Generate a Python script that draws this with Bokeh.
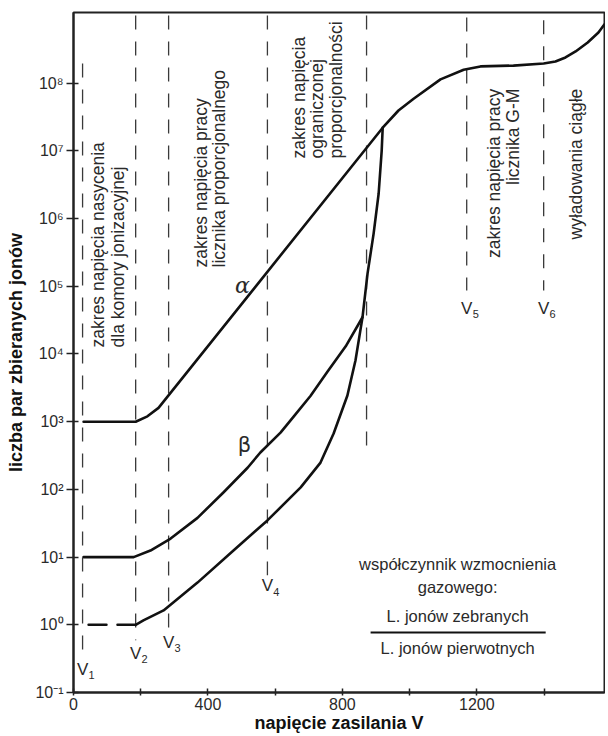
import math
from bokeh.plotting import figure
from bokeh.models import FixedTicker, Range1d
from bokeh.core.properties import value
from bokeh.embed import file_html
from bokeh.resources import INLINE

FONT = "Liberation Sans"
INK = "#111111"
TXT = "#2a2a2a"

# ---------------- data ----------------
# alpha particles curve: supply voltage [V] -> number of collected ion pairs
alpha_v = [30, 185, 220, 253, 920, 967, 1012, 1092, 1161, 1211, 1309, 1399,
           1434, 1464, 1494, 1530, 1562, 1580]
alpha_n = [1e3, 1e3, 1.2e3, 1.6e3, 2.2e7, 3.95e7, 5.9e7, 1.14e8, 1.58e8, 1.77e8,
           1.82e8, 1.95e8, 2.09e8, 2.4e8, 2.94e8, 4.0e8, 5.6e8, 7.4e8]

# beta particles curve (joins alpha curve at the top of the limited region)
beta_v = [30, 179, 229, 289, 369, 446, 518, 556, 616, 655, 705, 756, 810, 854,
          860, 875, 893, 908, 917, 920]
beta_n = [10, 10, 12.5, 18.8, 38, 90, 209, 351, 690, 1190, 2400, 5500, 1.3e4,
          3.1e4, 3.5e4, 1.55e5, 6.0e5, 2.35e6, 1.0e7, 2.2e7]

# third curve (1 primary ion pair); gap in the flat part as drawn
gamma_v = [45, 98, float("nan"), 131, 185, 208, 268, 369, 476, 577, 676, 735,
           774, 815, 839, 860]
gamma_n = [1, 1, float("nan"), 1, 1, 1.16, 1.63, 4.2, 12.5, 34.8, 107, 249,
           670, 2440, 8000, 3.5e4]

# boundary voltages (dashed lines) and their vertical extents
bound_v = [27, 185, 283, 577, 872, 1170, 1399]
bound_top = [1.95e8, 1e9, 1e9, 1e9, 1e9, 9.3e8, 8.5e8]
bound_bottom = [0.295, 0.59, 0.88, 5.4, 400, 8.7e4, 8.7e4]

# V labels
v_names = ["1", "2", "3", "4", "5", "6"]
v_label_x = [27, 185, 283, 577, 1170, 1399]
v_label_y = [0.219, 0.377, 0.548, 3.8, 4.7e4, 4.7e4]

# region descriptions (rotated)
regA_text = ["zakres napięcia nasycenia", "dla komory jonizacyjnej"]
regA_x = [74, 131]
regA_y = [1.25e4, 1.25e4]

regB_text = ["zakres napięcia pracy", "licznika proporcjonalnego"]
regB_x = [378, 432]
regB_y = [1.9e5, 1.9e5]

regC_text = ["zakres napięcia", "ograniczonej", "proporcjonalności"]
regC_x = [670, 726, 780]
regC_y = [7.73e6, 7.73e6, 7.73e6]

regD_text = ["zakres napięcia pracy", "licznika G-M", "wyładowania ciągłe"]
regD_x = [1250, 1309, 1494]
regD_y = [8.3e7, 8.3e7, 8.3e7]

# curve names
greek_text = ["α", "β"]
greek_x = [503, 509]
greek_y = [1.02e5, 460]

# gas gain definition
gain_text = ["współczynnik wzmocnienia", "gazowego:", "L. jonów zebranych",
             "L. jonów pierwotnych"]
gain_x = [1143, 1143, 1143, 1143]
gain_y = [8.04, 3.56, 1.33, 0.462]
frac_x = [884, 1405]
frac_y = [0.769, 0.769]

x_ticks = [0, 200, 400, 600, 800, 1000, 1200, 1400]
x_hidden = [200, 600, 1000, 1400]
y_exps = [-1, 0, 1, 2, 3, 4, 5, 6, 7, 8]

# ---------------- figure ----------------
p = figure(width=605, height=736,
           x_range=Range1d(0, 1580), y_range=Range1d(0.1, 1.107e9),
           y_axis_type="log", output_backend="svg", toolbar_location=None,
           min_border_left=73, min_border_right=1, min_border_top=12,
           min_border_bottom=44)
p.grid.visible = False
p.outline_line_color = "#222222"
p.outline_line_width = 2
p.background_fill_color = "white"
p.border_fill_color = "white"

SUP = str.maketrans("-0123456789", "⁻⁰¹²³⁴⁵⁶⁷⁸⁹")
y_ticks = [10.0 ** e for e in y_exps]
p.yaxis.ticker = FixedTicker(ticks=y_ticks)
p.yaxis.major_label_overrides = {t: "10" + str(e).translate(SUP)
                                 for t, e in zip(y_ticks, y_exps)}
p.yaxis.minor_tick_line_color = None
p.yaxis.major_tick_in = 5
p.yaxis.major_tick_out = 7
p.yaxis.major_label_standoff = 3
p.yaxis.axis_label = "liczba par zbieranych jonów"
p.yaxis.axis_label_standoff = 6

p.xaxis.ticker = FixedTicker(ticks=x_ticks)
p.xaxis.major_label_overrides = {t: "" for t in x_hidden}
p.xaxis.minor_tick_line_color = None
p.xaxis.major_tick_in = 4
p.xaxis.major_tick_out = 3
p.xaxis.major_label_standoff = 2
p.xaxis.axis_label = "napięcie zasilania V"
p.xaxis.axis_label_standoff = 0

for ax in (p.xaxis, p.yaxis):
    ax.axis_line_width = 2
    ax.axis_line_color = "#222222"
    ax.major_tick_line_width = 1.5
    ax.major_tick_line_color = "#222222"
    ax.major_label_text_font = FONT
    ax.major_label_text_color = TXT
    ax.axis_label_text_font = FONT
    ax.axis_label_text_font_style = "bold"
    ax.axis_label_text_font_size = "18px"
    ax.axis_label_text_color = "#111111"
p.xaxis.major_label_text_font_size = "16px"
p.yaxis.major_label_text_font_size = "16px"

# dashed boundaries
p.segment(x0=bound_v, y0=bound_top, x1=bound_v, y1=bound_bottom,
          line_color="#3a3a3a", line_width=1.3, line_dash="14 12")

# curves
for xs, ys in ((alpha_v, alpha_n), (beta_v, beta_n), (gamma_v, gamma_n)):
    p.line(xs, ys, line_color=INK, line_width=2.6, line_join="round",
           line_cap="round")

# V labels
p.text(x=v_label_x, y=v_label_y, text=["V"] * len(v_names),
       text_align="center", text_baseline="middle", text_font=value(FONT),
       text_font_size="17px", text_color=TXT)
p.text(x=v_label_x, y=v_label_y, text=v_names, x_offset=9, y_offset=6,
       text_align="center", text_baseline="middle", text_font=value(FONT),
       text_font_size="11px", text_color=TXT)

# rotated region descriptions
common = dict(angle=math.pi / 2, text_baseline="middle", text_font=value(FONT),
              text_font_size="17.5px", text_color=TXT)
p.text(x=regA_x, y=regA_y, text=regA_text, text_align="left", **common)
p.text(x=regB_x, y=regB_y, text=regB_text, text_align="left", **common)
p.text(x=regC_x, y=regC_y, text=regC_text, text_align="left", **common)
p.text(x=regD_x, y=regD_y, text=regD_text, text_align="right", **common)

# greek curve names
p.text(x=greek_x[:1], y=greek_y[:1], text=greek_text[:1], text_align="center",
       text_baseline="middle", text_font=value("DejaVu Serif"),
       text_font_style="italic", text_font_size="22px", text_color=TXT)
p.text(x=greek_x[1:], y=greek_y[1:], text=greek_text[1:], text_align="center",
       text_baseline="middle", text_font=value("DejaVu Sans"),
       text_font_size="21px", text_color=TXT)

# gas gain definition
p.text(x=gain_x, y=gain_y, text=gain_text, text_align="center",
       text_baseline="middle", text_font=value(FONT), text_font_size="16.5px",
       text_color=TXT)
p.line(frac_x, frac_y, line_color=INK, line_width=2)

open("out.html", "w").write(file_html(p, INLINE))
